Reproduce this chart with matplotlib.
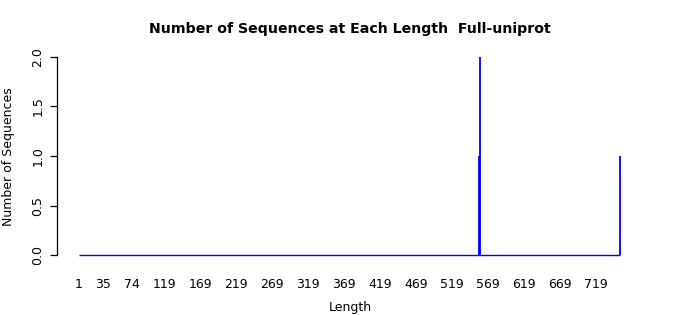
import numpy as np
import matplotlib
matplotlib.use("Agg")
from matplotlib import pyplot as plt

# sequence lengths run from first_len to last_len, all zero except the spikes
first_len = 1
last_len = 752
spike_lengths = [556, 558, 752]
spike_counts = [1, 2, 1]

xtick_labels = [1, 35, 74, 119, 169, 219, 269, 319, 369, 419, 469, 519, 569, 619, 669, 719]
ytick_values = [0.0, 0.5, 1.0, 1.5, 2.0]

W, H = 700, 315
fig = plt.figure(figsize=(W / 100, H / 100), dpi=100)
ax = fig.add_axes([57 / W, 1 - 263 / H, (642 - 57) / W, (263 - 49) / H])

blue = "#0000ff"
ax.hlines(0, first_len, last_len, color=blue, lw=1.0)
ax.vlines(spike_lengths, 0, spike_counts, color=blue, lw=1.3)

ax.set_xlim(first_len - 30.5, last_len + 30.5)
ax.set_ylim(-0.08, 2.08)

for s in ["top", "right", "bottom"]:
    ax.spines[s].set_visible(False)
ax.spines["left"].set_bounds(0, 2)
ax.spines["left"].set_linewidth(0.9)

ax.set_yticks(ytick_values)
ax.set_yticklabels([f"{v:.1f}" for v in ytick_values], rotation=90, va="center", fontsize=9)
ax.tick_params(axis="y", length=5, width=0.9, pad=4)

ax.set_xticks(xtick_labels)
ax.set_xticklabels([str(v) for v in xtick_labels], fontsize=9)
ax.tick_params(axis="x", length=0, pad=11)

fig.text(0.5, 1 - 29 / H, "Number of Sequences at Each Length  Full-uniprot",
         ha="center", va="center", fontsize=10.2, fontweight="bold")
fig.text(0.5, 1 - 307 / H, "Length", ha="center", va="center", fontsize=9)
fig.text(9 / W, 1 - 157 / H, "Number of Sequences", ha="center", va="center",
         rotation=90, fontsize=9)

fig.savefig("out.png", dpi=100)
